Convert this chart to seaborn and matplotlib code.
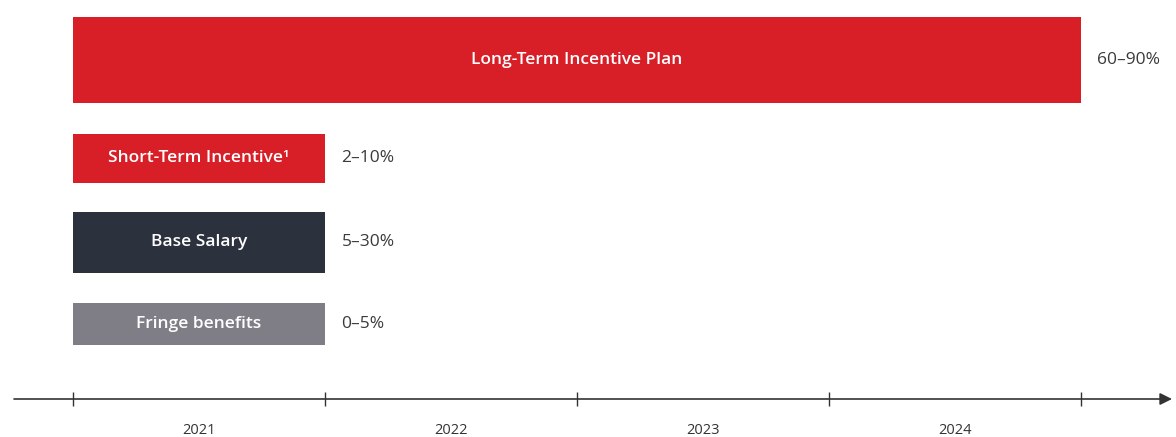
"""compensation components as a timeline of horizontal bars"""

import matplotlib.pyplot as plt
import pandas as pd
import seaborn as sns

# data
components = ["Long-Term Incentive Plan", "Short-Term Incentive¹", "Base Salary", "Fringe benefits"]
duration_years = [4, 1, 1, 1]  # every component starts at the beginning of 2021
share_ranges = ["60–90%", "2–10%", "5–30%", "0–5%"]
years = ["2021", "2022", "2023", "2024"]

# layout (figure pixels, y from the top)
row_center = [60, 158, 242, 324]
row_height = [86, 49, 61, 42]
colors = ["#D81E27", "#D81E27", "#2B323E", "#7F7E87"]
axis_y = 399
px_per_year = 252
left_px = 73

W, H = 1176, 437

sns.set_theme(style="white")
plt.rcParams["font.family"] = ["Open Sans", "DejaVu Sans"]

df = pd.DataFrame({"component": components, "years": duration_years})

fig = plt.figure(figsize=(W / 100, H / 100), dpi=100)
ax = fig.add_axes([0, 0, 1, 1])

sns.barplot(
    data=df,
    x="years",
    y="component",
    hue="component",
    order=components,
    hue_order=components,
    palette=dict(zip(components, colors)),
    orient="h",
    legend=False,
    saturation=1,
    ax=ax,
)

# place rows at their own heights
for patch, yc, h in zip(ax.patches, row_center, row_height):
    patch.set_y(yc - h / 2)
    patch.set_height(h)
    patch.set_linewidth(0)

ax.set_xlim(-left_px / px_per_year, (W - left_px) / px_per_year)
ax.set_ylim(H, 0)
ax.axis("off")

for name, dur, rng, yc in zip(components, duration_years, share_ranges, row_center):
    ax.text(dur / 2, yc, name, ha="center", va="center", color="white",
            fontsize=12.5, fontweight="semibold")
    ax.text(dur + 0.065, yc, rng, ha="left", va="center", color="#3a3a3a", fontsize=12.5)

# time axis with arrow
ax.annotate("", xy=((1172 - left_px) / px_per_year, axis_y),
            xytext=((14 - left_px) / px_per_year, axis_y),
            arrowprops=dict(arrowstyle="-|>", color="#333333", lw=1.2,
                            mutation_scale=18, shrinkA=0, shrinkB=0))
bounds = list(range(len(years) + 1))
ax.vlines(bounds, axis_y - 7, axis_y + 7, color="#333333", lw=1)
for i, yr in enumerate(years):
    ax.text(i + 0.5, 431, yr, ha="center", va="center", color="#333333",
            fontsize=10.5, fontweight="medium")

plt.savefig("out.png", dpi=100, facecolor="white")
